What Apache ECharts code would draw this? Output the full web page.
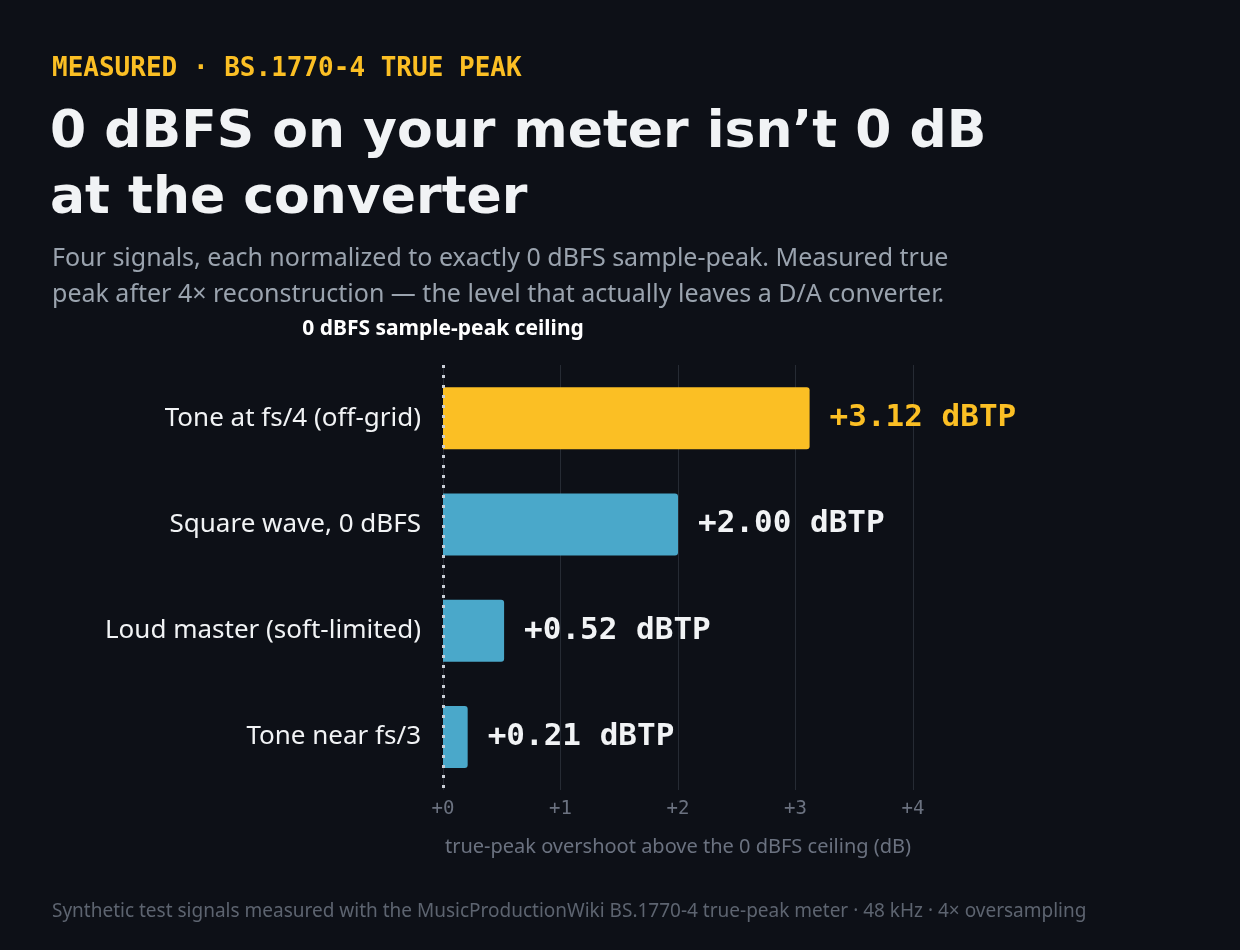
<!DOCTYPE html>
<html lang="en">
<head>
    <meta charset="UTF-8">
    <title>True peak</title>
    <script type="text/javascript" src="https://cdn.jsdelivr.net/npm/echarts@6/dist/echarts.min.js"></script>
    <style>
        html, body { margin: 0; padding: 0; background: #0d1017; }
    </style>
</head>
<body>
<div id="main" style="width: 1240px;height: 950px"></div>
</body>
<script>
    // data
    var signals = ["Tone at fs/4 (off-grid)", "Square wave, 0 dBFS", "Loud master (soft-limited)", "Tone near fs/3"]
    var overshoot = [3.12, 2.00, 0.52, 0.21]
    var barColors = ["#fbbf24", "#4aa8ca", "#4aa8ca", "#4aa8ca"]
    var labelColors = ["#fbbf24", "#f1f3f5", "#f1f3f5", "#f1f3f5"]
    var ticks = [0, 1, 2, 3, 4]

    var mono = "'DejaVu Sans Mono', 'Liberation Mono', monospace"
    var sans = "'Noto Sans', 'Open Sans', sans-serif"

    var barData = []
    for (var i = 0; i < signals.length; i++) {
        barData.push({
            value: overshoot[i],
            itemStyle: {color: barColors[i]},
            label: {color: labelColors[i]}
        })
    }

    var myChart = echarts.init(document.getElementById("main"))
    myChart.setOption({
        backgroundColor: "#0d1017",
        title: [{
            text: "MEASURED · BS.1770-4 TRUE PEAK",
            left: 52, top: 56, padding: 0,
            textStyle: {color: "#fbbf24", fontFamily: mono, fontSize: 26, fontWeight: "bold"}
        }, {
            text: "0 dBFS on your meter isn’t 0 dB\nat the converter",
            left: 50, top: 100, padding: 0,
            textStyle: {color: "#f1f3f5", fontFamily: "'DejaVu Sans', sans-serif", fontSize: 52, fontWeight: "bold", lineHeight: 66}
        }, {
            text: "Four signals, each normalized to exactly 0 dBFS sample-peak. Measured true\npeak after 4× reconstruction — the level that actually leaves a D/A converter.",
            left: 52, top: 241, padding: 0,
            textStyle: {color: "#9aa3ae", fontFamily: sans, fontSize: 25, fontWeight: "normal", lineHeight: 36}
        }, {
            text: "Synthetic test signals measured with the MusicProductionWiki BS.1770-4 true-peak meter · 48 kHz · 4× oversampling",
            left: 52, top: 902, padding: 0,
            textStyle: {color: "#5d6470", fontFamily: sans, fontSize: 19, fontWeight: "normal"}
        }],
        grid: {left: 443, right: 327, top: 365, bottom: 160},
        xAxis: {
            type: "value",
            min: 0, max: 4, interval: 1,
            axisLine: {show: false},
            axisTick: {show: false},
            splitLine: {lineStyle: {color: "#262b34", width: 1}},
            axisLabel: {
                color: "#6b7280", fontFamily: mono, fontSize: 19, margin: 10,
                formatter: function (v) { return "+" + v }
            },
            name: "true-peak overshoot above the 0 dBFS ceiling (dB)",
            nameLocation: "middle",
            nameGap: 47,
            nameTextStyle: {color: "#6b7280", fontFamily: sans, fontSize: 20}
        },
        yAxis: {
            type: "category",
            inverse: true,
            data: signals,
            axisLine: {show: false},
            axisTick: {show: false},
            axisLabel: {color: "#f1f3f5", fontFamily: sans, fontSize: 26, margin: 22}
        },
        series: [{
            type: "bar",
            data: barData,
            barWidth: 62,
            itemStyle: {borderRadius: [0, 3, 3, 0]},
            label: {
                show: true,
                position: "right",
                distance: 20,
                fontFamily: mono,
                fontSize: 31,
                fontWeight: "bold",
                formatter: function (p) { return "+" + p.value.toFixed(2) + " dBTP" }
            },
            markLine: {
                silent: true,
                symbol: "none",
                lineStyle: {color: "#c9ced6", type: [3, 7], width: 3},
                label: {
                    show: true,
                    position: "start",
                    formatter: "0 dBFS sample-peak ceiling",
                    color: "#ffffff",
                    fontFamily: sans,
                    fontSize: 21,
                    fontWeight: "bold",
                    distance: 25
                },
                data: [{xAxis: 0}]
            }
        }]
    });
</script>
</html>
